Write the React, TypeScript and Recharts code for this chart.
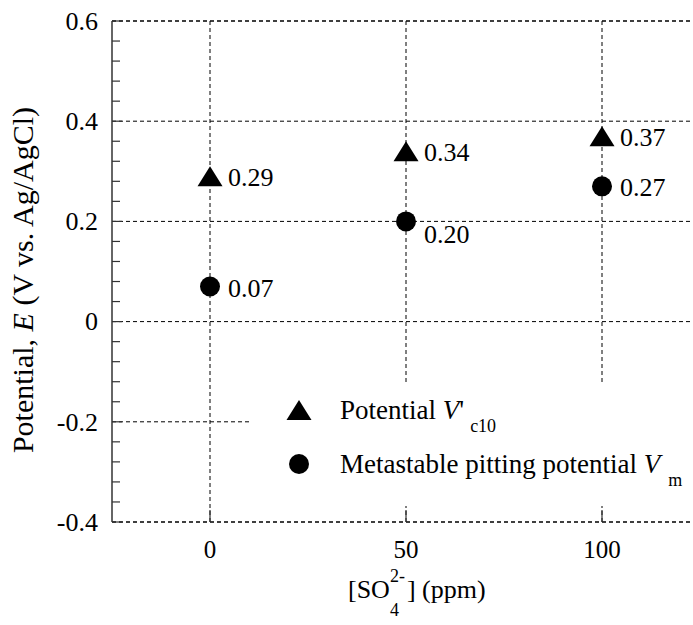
import React from 'react';
import { ScatterChart, Scatter, XAxis, YAxis, ReferenceLine, Legend } from 'recharts';

const concentrations = [0, 50, 100];
const potentialVc10 = [0.29, 0.34, 0.37];
const pittingVm = [0.07, 0.2, 0.27];
const xTicks = [0, 50, 100];
const yTicks = [-0.4, -0.2, 0, 0.2, 0.4, 0.6];
const yTickLabels = ['-0.4', '-0.2', '0', '0.2', '0.4', '0.6'];

const FONT = '"Liberation Serif", "Times New Roman", serif';
const INK = '#000';

// 4 minor ticks between each pair of major ticks
const yMinorTicks: number[] = [];
for (let i = 0; i < yTicks.length - 1; i++) {
  const step = (yTicks[i + 1] - yTicks[i]) / 5;
  for (let k = 1; k < 5; k++) yMinorTicks.push(yTicks[i] + k * step);
}
const yAllTicks = [...yTicks, ...yMinorTicks].sort((a, b) => a - b);

const vc10Data = concentrations.map((x, i) => ({ x, y: potentialVc10[i] }));
const vmData = concentrations.map((x, i) => ({ x, y: pittingVm[i] }));

const isMajor = (v: number) => yTicks.findIndex((t) => Math.abs(t - v) < 1e-9);

const YTick = (props: any) => {
  const { x, y, payload } = props;
  const idx = isMajor(payload.value);
  if (idx < 0) {
    return <line x1={x} x2={x + 8} y1={y} y2={y} stroke="#333" strokeWidth={1.2} />;
  }
  return (
    <g>
      <line x1={x} x2={x + 10} y1={y} y2={y} stroke="#333" strokeWidth={1.2} />
      <text x={x - 14} y={y} dy="0.34em" textAnchor="end" fontSize={26} fontFamily={FONT} fill={INK}>
        {yTickLabels[idx]}
      </text>
    </g>
  );
};

const XTick = (props: any) => {
  const { x, y, payload } = props;
  return (
    <g>
      <line x1={x} x2={x} y1={y} y2={y - 12} stroke="#333" strokeWidth={1.2} />
      <text x={x} y={y + 36} textAnchor="middle" fontSize={25} fontFamily={FONT} fill={INK}>
        {payload.value}
      </text>
    </g>
  );
};

// value label sits to the right; pushed below when the point lies on a gridline
const PointLabel = ({ cx, cy, value }: { cx: number; cy: number; value: number }) => {
  const onGrid = isMajor(value) >= 0;
  return (
    <text x={cx + 18} y={cy + (onGrid ? 22 : 10)} fontSize={26} fontFamily={FONT} fill={INK}>
      {value.toFixed(2)}
    </text>
  );
};

const TriangleShape = (props: any) => {
  const { cx, cy, payload } = props;
  return (
    <g>
      <polygon points={`${cx - 12.5},${cy + 10} ${cx + 12.5},${cy + 10} ${cx},${cy - 10}`} fill={INK} />
      <PointLabel cx={cx} cy={cy} value={payload.y} />
    </g>
  );
};

const CircleShape = (props: any) => {
  const { cx, cy, payload } = props;
  return (
    <g>
      <circle cx={cx} cy={cy} r={10} fill={INK} />
      <PointLabel cx={cx} cy={cy} value={payload.y} />
    </g>
  );
};

const LegendBox = () => (
  <div style={{ position: 'relative', width: '100%', height: '100%', fontFamily: FONT, fontSize: 27, color: INK }}>
    <div style={{ position: 'absolute', left: 34, top: 7, height: 40, display: 'flex', alignItems: 'center' }}>
      <svg width={26} height={22}>
        <polygon points="0.5,21 25.5,21 13,1" fill={INK} />
      </svg>
      <span style={{ marginLeft: 28, whiteSpace: 'nowrap' }}>
        Potential <i>V</i>'<span style={{ fontSize: 18, position: 'relative', top: 13, marginLeft: 6 }}>c10</span>
      </span>
    </div>
    <div style={{ position: 'absolute', left: 34, top: 61, height: 40, display: 'flex', alignItems: 'center' }}>
      <svg width={26} height={22}>
        <circle cx={13} cy={11} r={10} fill={INK} />
      </svg>
      <span style={{ marginLeft: 28, whiteSpace: 'nowrap' }}>
        Metastable pitting potential <i>V</i>
        <span style={{ fontSize: 18, position: 'relative', top: 13, marginLeft: 8 }}>m</span>
      </span>
    </div>
  </div>
);

const YTitle = () => (
  <text transform="translate(33, 280) rotate(-90)" textAnchor="middle" fontSize={30} fontFamily={FONT} fill={INK}>
    Potential, <tspan fontStyle="italic">E</tspan> (V vs. Ag/AgCl)
  </text>
);

const XTitle = () => (
  <text x={348} y={598} fontSize={26} fontFamily={FONT} fill={INK}>
    [SO
    <tspan fontSize={18} dy={18}>4</tspan>
    <tspan fontSize={18} dx={-9} dy={-34}>2-</tspan>
    <tspan dx={2} dy={16}>] (ppm)</tspan>
  </text>
);

export default function App() {
  return (
    <div style={{ position: 'absolute', left: 0, top: 0, width: 693, height: 625, overflow: 'hidden', background: '#fff' }}>
      <ScatterChart width={720} height={625} margin={{ top: 21, right: 20, bottom: 0, left: 0 }}>
        <XAxis
          type="number"
          dataKey="x"
          domain={[-25, 125]}
          ticks={xTicks}
          interval={0}
          height={103}
          axisLine={false}
          tickLine={false}
          tickSize={0}
          tickMargin={0}
          tick={<XTick />}
          label={() => <XTitle />}
        />
        <YAxis
          type="number"
          dataKey="y"
          domain={[-0.4, 0.6]}
          ticks={yAllTicks}
          interval={0}
          width={112}
          axisLine={{ stroke: '#333', strokeWidth: 1.5 }}
          tickLine={false}
          tickSize={0}
          tickMargin={0}
          tick={<YTick />}
          label={() => <YTitle />}
        />
        {yTicks.map((v, i) => (
          <ReferenceLine
            key={`h-${v}`}
            y={v}
            stroke={INK}
            strokeWidth={i === 0 || i === yTicks.length - 1 ? 1.6 : 1}
            strokeDasharray="4 3"
          />
        ))}
        {xTicks.map((v) => (
          <ReferenceLine key={`v-${v}`} x={v} stroke={INK} strokeWidth={1} strokeDasharray="4 3" />
        ))}
        <Scatter name="Potential V'c10" data={vc10Data} fill={INK} shape={TriangleShape} isAnimationActive={false} />
        <Scatter name="Metastable pitting potential Vm" data={vmData} fill={INK} shape={CircleShape} isAnimationActive={false} />
        <Legend
          layout="vertical"
          align="center"
          verticalAlign="middle"
          content={() => <LegendBox />}
          wrapperStyle={{ position: 'absolute', left: 252, top: 383, width: 438, height: 123, background: '#fff', margin: 0 }}
        />
      </ScatterChart>
    </div>
  );
}
